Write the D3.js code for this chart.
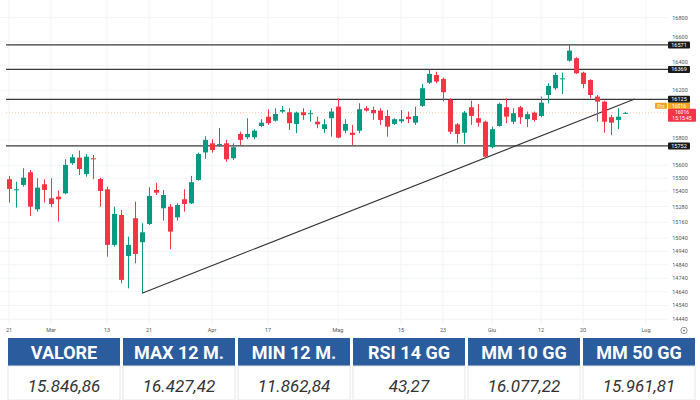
<!DOCTYPE html>
<html>
<head>
<meta charset="utf-8">
<script src="https://cdnjs.cloudflare.com/ajax/libs/d3/7.8.5/d3.min.js"></script>
<style>
	body { margin: 0; background: #fff; }
	svg { display: block; font-family: Roboto, "Noto Sans", sans-serif; }
</style>
</head>
<body>
<svg id="plot" width="700" height="400"></svg>
<script>

function whenDocumentLoaded(action) {
	if (document.readyState === "loading") {
		document.addEventListener("DOMContentLoaded", action);
	} else {
		action();
	}
}

// daily candles, 21 Feb -> 28 Jun (trading days only)
const OPEN  = [15491,15406,15447,15545,15259,15452,15344,15356,15382,15616,15660,15532,15655,15493,15413,14989,15216,14906,15191,15009,
	15147,15408,15267,15279,15198,15336,15305,15485,15701,15773,15760,15773,15655,15847,15821,15821,15911,15985,15953,16026,
	16021,15927,16021,16005,15945,15887,15973,16066,15873,15857,15873,16053,16039,16034,15991,15927,15948,15985,15937,16072,
	16260,16323,16291,16120,15924,15857,16061,15973,15945,15742,15911,16061,15945,16061,15965,16018,15991,16160,16215,16288,
	16441,16461,16342,16282,16147,16106,15981,15959,16012];
const HIGH  = [15517,15472,15577,15563,15499,15491,15499,15403,15647,15687,15715,15689,15681,15503,15434,15279,15254,15051,15318,15153,
	15429,15464,15408,15300,15305,15413,15517,15699,15829,15805,15895,15800,15773,15865,15973,15885,15965,16045,16053,16072,
	16053,16026,16053,16039,15985,15965,16053,16134,15965,15919,16093,16072,16066,16053,16039,15973,16039,16026,16066,16250,
	16364,16350,16301,16134,15933,16031,16114,16088,15953,15905,16098,16134,16053,16072,16026,16026,16147,16256,16342,16342,
	16571,16469,16350,16288,16160,16114,15999,16053,16024];
const LOW   = [15310,15272,15434,15208,15241,15310,15275,15165,15375,15603,15524,15511,15491,15279,14901,14976,14703,14666,14851,14630,
	15140,15369,15172,14956,15172,15241,15300,15480,15650,15699,15744,15628,15642,15760,15805,15805,15901,15919,15945,16013,
	15879,15853,15959,15945,15893,15853,15826,15813,15853,15760,15853,16026,15959,15919,15826,15919,15933,15933,15919,16064,
	16250,16256,16106,15847,15773,15768,15919,15905,15655,15734,15905,15933,15927,15927,15901,15945,15981,16093,16201,16169,
	16433,16332,16215,16134,15945,15857,15839,15885,16008];
const CLOSE = [15416,15413,15503,15279,15426,15408,15300,15336,15603,15663,15571,15668,15647,15400,14989,15224,14728,14989,14921,15084,
	15362,15387,15369,15089,15292,15300,15468,15689,15800,15720,15768,15647,15742,15800,15847,15873,15937,15933,16007,16039,
	15933,16018,15997,16013,15924,15924,16026,15818,15927,15839,16045,16034,16013,15959,15905,15965,15965,15965,15991,16215,
	16332,16269,16182,15865,15847,16018,15991,15937,15668,15885,16088,15985,16013,15981,16005,15959,16098,16234,16323,16296,
	16524,16337,16250,16160,16106,15945,15937,15985,16016];

// x-axis labels: trading-day index and text
const X_TICK_INDEX = [0, 6, 14, 20, 29, 37, 47, 56, 62, 69, 76, 82, 91];
const X_TICK_LABELS = ['21', 'Mar', '13', '21', 'Apr', '17', 'Mag', '15', '23', 'Giu', '12', '20', 'Lug'];

// right price scale (log)
const Y_TICKS = [16800, 16600, 16400, 16200, 15800, 15600, 15500, 15400, 15280, 15160, 15040, 14940, 14840, 14740, 14640, 14540, 14440];

// support / resistance levels
const LEVELS = [16571, 16369, 16125, 15752];

// trendline from the March low
const TREND_INDEX = [19, 89.4];
const TREND_VALUE = [14630, 16128];

const LAST_PRICE = 16016;
const COUNTDOWN = '15:15:45';

const TABLE_HEADERS = ['VALORE', 'MAX 12 M.', 'MIN 12 M.', 'RSI 14 GG', 'MM 10 GG', 'MM 50 GG'];
const TABLE_VALUES = ['15.846,86', '16.427,42', '11.862,84', '43,27', '16.077,22', '15.961,81'];

const UP = '#089981';
const DOWN = '#f23645';

const data = OPEN.map((o, i) => {
	return {'i': i, 'o': o, 'h': HIGH[i], 'l': LOW[i], 'c': CLOSE[i]};
});

class CandleChart {

	constructor(svg_id, dataset) {
		this.id = svg_id;
		this.data = dataset;

		// plot area (left, top, right, bottom)
		this.box = [6, 0, 668, 325];

		var svg = d3.select('#' + this.id);
		var scales = this.scale();

		this.grid(svg, scales);
		this.plot(svg, scales);
		this.axes(svg, scales);
		this.table(svg);
	}

	scale() {
		var x = d3.scaleLinear()
			.domain([0, 91])
			.range([9, 646]);

		var y = d3.scaleLog()
			.domain([14440, 16800])
			.range([319.25, 17.6]);

		return {'x': x, 'y': y};
	}

	grid(svg, scales) {
		var g = svg.append('g');

		g.selectAll('line.vg')
			.data(X_TICK_INDEX)
			.enter().append('line')
			.attr('x1', d => scales.x(d)).attr('x2', d => scales.x(d))
			.attr('y1', this.box[1]).attr('y2', this.box[3])
			.style('stroke', '#f1f3f6');

		g.selectAll('line.hg')
			.data(Y_TICKS)
			.enter().append('line')
			.attr('x1', 0).attr('x2', this.box[2])
			.attr('y1', d => scales.y(d)).attr('y2', d => scales.y(d))
			.style('stroke', '#f3f4f7');
	}

	plot(svg, scales) {
		var box = this.box;

		// last price dotted line
		svg.append('line')
			.attr('x1', box[0]).attr('x2', box[2])
			.attr('y1', scales.y(LAST_PRICE)).attr('y2', scales.y(LAST_PRICE))
			.style('stroke', '#f4a26a')
			.style('stroke-opacity', 0.6)
			.style('stroke-dasharray', '1,2');

		// horizontal levels
		svg.append('g').selectAll('line')
			.data(LEVELS)
			.enter().append('line')
			.attr('x1', box[0]).attr('x2', box[2])
			.attr('y1', d => scales.y(d)).attr('y2', d => scales.y(d))
			.style('stroke', '#3a3a3a')
			.style('stroke-width', 1.3);

		// trendline
		svg.append('line')
			.attr('x1', scales.x(TREND_INDEX[0])).attr('y1', scales.y(TREND_VALUE[0]))
			.attr('x2', scales.x(TREND_INDEX[1])).attr('y2', scales.y(TREND_VALUE[1]))
			.style('stroke', '#333')
			.style('stroke-width', 1.1);

		var candles = svg.append('g').selectAll('g')
			.data(this.data)
			.enter().append('g')
			.style('fill', d => d.c >= d.o ? UP : DOWN)
			.style('stroke', d => d.c >= d.o ? UP : DOWN);

		// wicks
		candles.append('line')
			.attr('x1', d => Math.round(scales.x(d.i)) + 0.5)
			.attr('x2', d => Math.round(scales.x(d.i)) + 0.5)
			.attr('y1', d => scales.y(d.h))
			.attr('y2', d => scales.y(d.l))
			.style('stroke-width', 1);

		// bodies
		candles.append('rect')
			.attr('x', d => Math.round(scales.x(d.i)) - 2)
			.attr('width', 5)
			.attr('y', d => scales.y(Math.max(d.o, d.c)))
			.attr('height', d => Math.max(1, scales.y(Math.min(d.o, d.c)) - scales.y(Math.max(d.o, d.c))))
			.style('stroke', 'none');
	}

	axes(svg, scales) {
		// tick labels that sit under a level box get pushed just above it
		var labelY = function(d) {
			var y = scales.y(d);
			LEVELS.forEach(l => {
				var ly = scales.y(l);
				if (Math.abs(y - ly) < 7) y = ly - 7.5;
			});
			return y;
		};

		// price labels on the right
		svg.append('g').selectAll('text')
			.data(Y_TICKS)
			.enter().append('text')
			.attr('x', 680)
			.attr('y', labelY)
			.attr('dy', '0.35em')
			.attr('text-anchor', 'middle')
			.style('font-size', '5.5px')
			.style('fill', '#555')
			.text(d => d);

		// level boxes
		var lv = svg.append('g').selectAll('g')
			.data(LEVELS)
			.enter().append('g');
		lv.append('rect')
			.attr('x', 668).attr('width', 22)
			.attr('y', d => scales.y(d) - 3.5).attr('height', 7)
			.attr('rx', 1)
			.style('fill', '#1a1a1a');
		lv.append('text')
			.attr('x', 679)
			.attr('y', d => scales.y(d))
			.attr('dy', '0.35em')
			.attr('text-anchor', 'middle')
			.style('font-size', '5.5px')
			.style('fill', '#fff')
			.text(d => d);

		// last price labels
		var py = scales.y(LAST_PRICE);
		svg.append('rect')
			.attr('x', 655).attr('y', py - 10).attr('width', 12).attr('height', 6)
			.attr('rx', 1).style('fill', '#f7a21b');
		svg.append('text')
			.attr('x', 661).attr('y', py - 7).attr('dy', '0.35em')
			.attr('text-anchor', 'middle')
			.style('font-size', '5px').style('fill', '#fff')
			.text('Prz');
		svg.append('rect')
			.attr('x', 668).attr('y', py - 10).attr('width', 22).attr('height', 6)
			.style('fill', '#f7a21b');
		svg.append('text')
			.attr('x', 679).attr('y', py - 7).attr('dy', '0.35em')
			.attr('text-anchor', 'middle')
			.style('font-size', '5px').style('fill', '#fff')
			.text(LAST_PRICE);
		svg.append('rect')
			.attr('x', 668).attr('y', py - 4).attr('width', 28).attr('height', 13)
			.attr('rx', 1).style('fill', DOWN);
		svg.append('text')
			.attr('x', 682).attr('y', py - 0.5).attr('dy', '0.35em')
			.attr('text-anchor', 'middle')
			.style('font-size', '5px').style('fill', '#fff')
			.text(LAST_PRICE);
		svg.append('text')
			.attr('x', 682).attr('y', py + 5).attr('dy', '0.35em')
			.attr('text-anchor', 'middle')
			.style('font-size', '5px').style('fill', '#fff')
			.text(COUNTDOWN);

		// date labels
		svg.append('g').selectAll('text')
			.data(X_TICK_INDEX)
			.enter().append('text')
			.attr('x', d => scales.x(d))
			.attr('y', 332)
			.attr('text-anchor', 'middle')
			.style('font-size', '5.5px')
			.style('fill', '#555')
			.text((d, i) => X_TICK_LABELS[i]);

		// settings icon
		svg.append('circle')
			.attr('cx', 684).attr('cy', 330.5).attr('r', 3.2)
			.style('fill', 'none').style('stroke', '#777').style('stroke-width', 0.8);
		svg.append('circle')
			.attr('cx', 684).attr('cy', 330.5).attr('r', 1)
			.style('fill', '#777');
	}

	table(svg) {
		var cellW = 112;
		var t = svg.append('g');

		var cells = t.selectAll('g')
			.data(TABLE_HEADERS)
			.enter().append('g')
			.attr('transform', (d, i) => 'translate(' + (8 + i * 115) + ',0)');

		cells.append('rect')
			.attr('y', 338).attr('width', cellW).attr('height', 28)
			.style('fill', '#2a5c9e');

		cells.append('rect')
			.attr('y', 366).attr('width', cellW).attr('height', 34)
			.style('fill', '#fff')
			.style('stroke', '#e6e6e6');

		cells.append('text')
			.attr('x', cellW / 2).attr('y', 358.5)
			.attr('text-anchor', 'middle')
			.style('font-size', '18px')
			.style('font-weight', 'bold')
			.style('fill', '#fff')
			.text(d => d);

		cells.append('text')
			.attr('x', cellW / 2).attr('y', 392)
			.attr('text-anchor', 'middle')
			.style('font-size', '17px')
			.style('font-style', 'italic')
			.style('fill', '#333')
			.text((d, i) => TABLE_VALUES[i]);
	}
}

whenDocumentLoaded(() => {
	const chart = new CandleChart('plot', data);
});

</script>
</body>
</html>
